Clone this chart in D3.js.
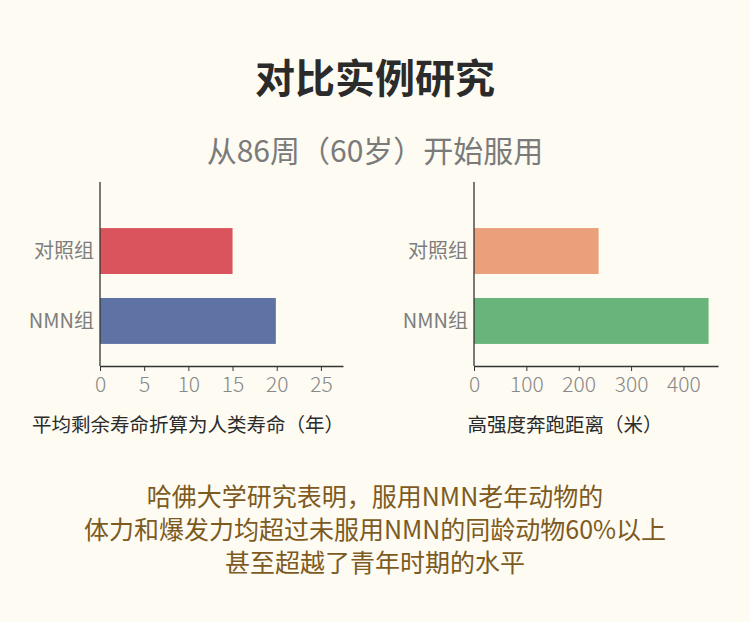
<!DOCTYPE html>
<html>
<head>
<meta charset="utf-8">
<script src="https://cdn.jsdelivr.net/npm/d3@7"></script>
<style>
  body { margin: 0; background: #fdfbf2; }
  svg { display: block; font-family: "Noto Sans CJK SC", "Noto Sans", sans-serif; }
</style>
</head>
<body>
<div id="chart"></div>
<script>
// data
const categories = ["对照组", "NMN组"];
const lifeValues = [15, 19.9];
const runValues = [238, 448];
const lifeTicks = [0, 5, 10, 15, 20, 25];
const runTicks = [0, 100, 200, 300, 400];
const lifeColors = ["#d9545c", "#5e73a3"];
const runColors = ["#eaa07a", "#68b47a"];
const paragraph = [
  "哈佛大学研究表明，服用NMN老年动物的",
  "体力和爆发力均超过未服用NMN的同龄动物60%以上",
  "甚至超越了青年时期的水平"
];

const W = 750, H = 622;
const svg = d3.select("#chart").append("svg")
  .attr("width", W).attr("height", H);

svg.append("rect").attr("width", W).attr("height", H).attr("fill", "#fdfbf2");

// Titles
svg.append("text")
  .attr("x", 375).attr("y", 93)
  .attr("text-anchor", "middle")
  .attr("font-size", "40px").attr("font-weight", "bold")
  .attr("fill", "#2b2b2b")
  .text("对比实例研究");

svg.append("text")
  .attr("x", 375).attr("y", 162)
  .attr("text-anchor", "middle")
  .attr("font-size", "30px")
  .attr("fill", "#7a7a7a")
  .text("从86周（60岁）开始服用");

function drawPanel(opts) {
  const { x0, x1, maxVal, values, colors, ticks, label, labelX } = opts;
  const top = 182, bottom = 366;

  const x = d3.scaleLinear().domain([0, maxVal]).range([x0, x1]);
  const y = d3.scaleBand().domain(categories).range([205, 367])
    .paddingInner(0.343).paddingOuter(0.33);

  const g = svg.append("g");

  // bars
  g.selectAll("rect.bar")
    .data(values)
    .enter()
    .append("rect")
    .attr("class", "bar")
    .attr("x", x(0))
    .attr("y", (d, i) => y(categories[i]))
    .attr("width", d => x(d) - x(0))
    .attr("height", y.bandwidth())
    .attr("fill", (d, i) => colors[i]);

  // y axis line
  g.append("line")
    .attr("x1", x0).attr("x2", x0)
    .attr("y1", top).attr("y2", bottom)
    .attr("stroke", "#333").attr("stroke-width", 1.3);

  // x axis
  const xAxis = d3.axisBottom(x).tickValues(ticks).tickSize(5).tickSizeOuter(0);
  const ax = g.append("g")
    .attr("transform", `translate(0,${bottom})`)
    .call(xAxis);
  ax.select(".domain").attr("stroke", "#333").attr("stroke-width", 1.3);
  ax.selectAll(".tick line").attr("stroke", "#333");
  ax.selectAll(".tick text")
    .attr("font-size", "21px")
    .attr("font-weight", 300)
    .attr("fill", "#888")
    .attr("dy", "0.85em")
    .attr("font-family", "\"Noto Sans CJK SC\", sans-serif");

  // category labels
  g.selectAll("text.cat")
    .data(categories)
    .enter()
    .append("text")
    .attr("class", "cat")
    .attr("x", x0 - 6)
    .attr("y", d => y(d) + y.bandwidth() / 2)
    .attr("dy", "0.35em")
    .attr("text-anchor", "end")
    .attr("font-size", "20px")
    .attr("fill", "#7d7d7d")
    .text(d => d);

  // axis title
  g.append("text")
    .attr("x", labelX).attr("y", 432)
    .attr("text-anchor", "middle")
    .attr("font-size", "19.5px")
    .attr("fill", "#2b2b2b")
    .text(label);
}

drawPanel({
  x0: 100, x1: 343, maxVal: 27.5,
  values: lifeValues, colors: lifeColors, ticks: lifeTicks,
  label: "平均剩余寿命折算为人类寿命（年）", labelX: 188
});

drawPanel({
  x0: 474, x1: 718, maxVal: 466,
  values: runValues, colors: runColors, ticks: runTicks,
  label: "高强度奔跑距离（米）", labelX: 565
});

// paragraph
svg.selectAll("text.para")
  .data(paragraph)
  .enter()
  .append("text")
  .attr("class", "para")
  .attr("x", 375)
  .attr("y", (d, i) => 506 + i * 33)
  .attr("text-anchor", "middle")
  .attr("font-size", "25px")
  .attr("fill", "#7d5a1e")
  .text(d => d);
</script>
</body>
</html>
